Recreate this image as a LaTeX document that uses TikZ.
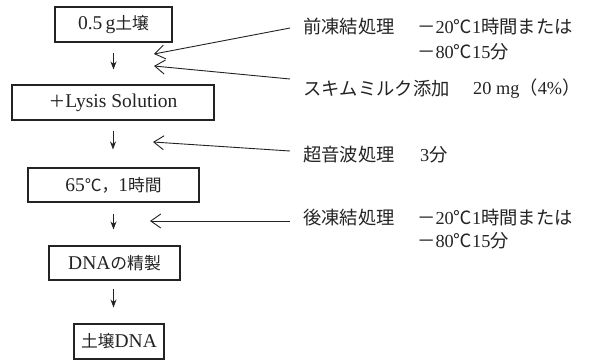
\documentclass[tikz,border=0pt]{standalone}
\usepackage{fontspec}
\setmainfont{Liberation Serif}
\newfontfamily\jp{Noto Sans CJK JP}
\newfontfamily\jpb{Noto Sans CJK JP}[Scale=0.86]
\usetikzlibrary{arrows.meta}
\definecolor{ink}{RGB}{35,35,35}
\begin{document}
\begin{tikzpicture}[x=1pt,y=-1pt,
  stepbox/.style={draw=ink, line width=1.1pt, text=ink, inner sep=0pt,
    font=\fontsize{19.5}{22}\selectfont},
  rt/.style={anchor=west, inner sep=0pt, text=ink, font=\fontsize{18.3}{21}\selectfont},
  down/.style={draw=ink, line width=0.8pt, -{Stealth[length=8pt,width=6pt]}},
  side/.style={draw=ink, line width=0.9pt, -{Straight Barb[length=10pt,width=14pt,line width=0.9pt]}}]
\useasboundingbox[fill=white] (0,0) rectangle (593,362);
% boxes
\node[stepbox, minimum width=117pt, minimum height=35pt] (b1) at (113.5,24.5) {0.5\,g{\jpb 土壌}};
\node[stepbox, minimum width=202pt, minimum height=35pt] (b2) at (113,102.5) {{\jpb ＋}Lysis Solution};
\node[stepbox, minimum width=171pt, minimum height=34pt] (b3) at (113.5,185) {65{\jpb ℃，}1{\jpb 時間}};
\node[stepbox, minimum width=131pt, minimum height=34pt] (b4) at (114.5,263) {DNA{\jpb の精製}};
\node[stepbox, minimum width=90pt, minimum height=35pt] (b5) at (119,341.5) {{\jpb 土壌}DNA};
% down arrows
\draw[down, shorten <=10pt, shorten >=15pt] (b1.south) -- (b1.south |- b2.north);
\draw[down, shorten <=10pt, shorten >=18pt] (b2.south) -- (b2.south |- b3.north);
\draw[down, shorten <=11pt, shorten >=16pt] (b3.south) -- (b3.south |- b4.north);
\draw[down, shorten <=8pt, shorten >=16pt] (b4.south -| b3.south) -- (b3.south |- b5.north);
% right texts
\node[rt] (t1) at (303,27) {\jp 前凍結処理};
\node[rt] (t1a) at (417,27) {{\jp －}20{\jp ℃}1{\jp 時間または}};
\node[rt] (t1b) at (417,52) {{\jp －}80{\jp ℃}15{\jp 分}};
\node[rt] (t2) at (303,89) {\jp スキムミルク添加};
\node[rt] (t2a) at (473,89) {20 mg{\jp （}4\%{\jp ）}};
\node[rt] (t3) at (303,155) {\jp 超音波処理};
\node[rt] (t3a) at (420,155) {3{\jp 分}};
\node[rt] (t4) at (303,218) {\jp 後凍結処理};
\node[rt] (t4a) at (417,218) {{\jp －}20{\jp ℃}1{\jp 時間または}};
\node[rt] (t4b) at (417,241) {{\jp －}80{\jp ℃}15{\jp 分}};
% side arrows
\coordinate (s1) at (290,28);  \coordinate (e1) at (154,54);
\coordinate (s2) at (290,79);  \coordinate (e2) at (154,66);
\coordinate (s3) at (290,151); \coordinate (e3) at (153,142);
\coordinate (s4) at (290,221); \coordinate (e4) at (150,221);
\draw[side] (s1) -- (e1);
\draw[side] (s2) -- (e2);
\draw[side] (s3) -- (e3);
\draw[side] (s4) -- (e4);
\end{tikzpicture}
\end{document}
